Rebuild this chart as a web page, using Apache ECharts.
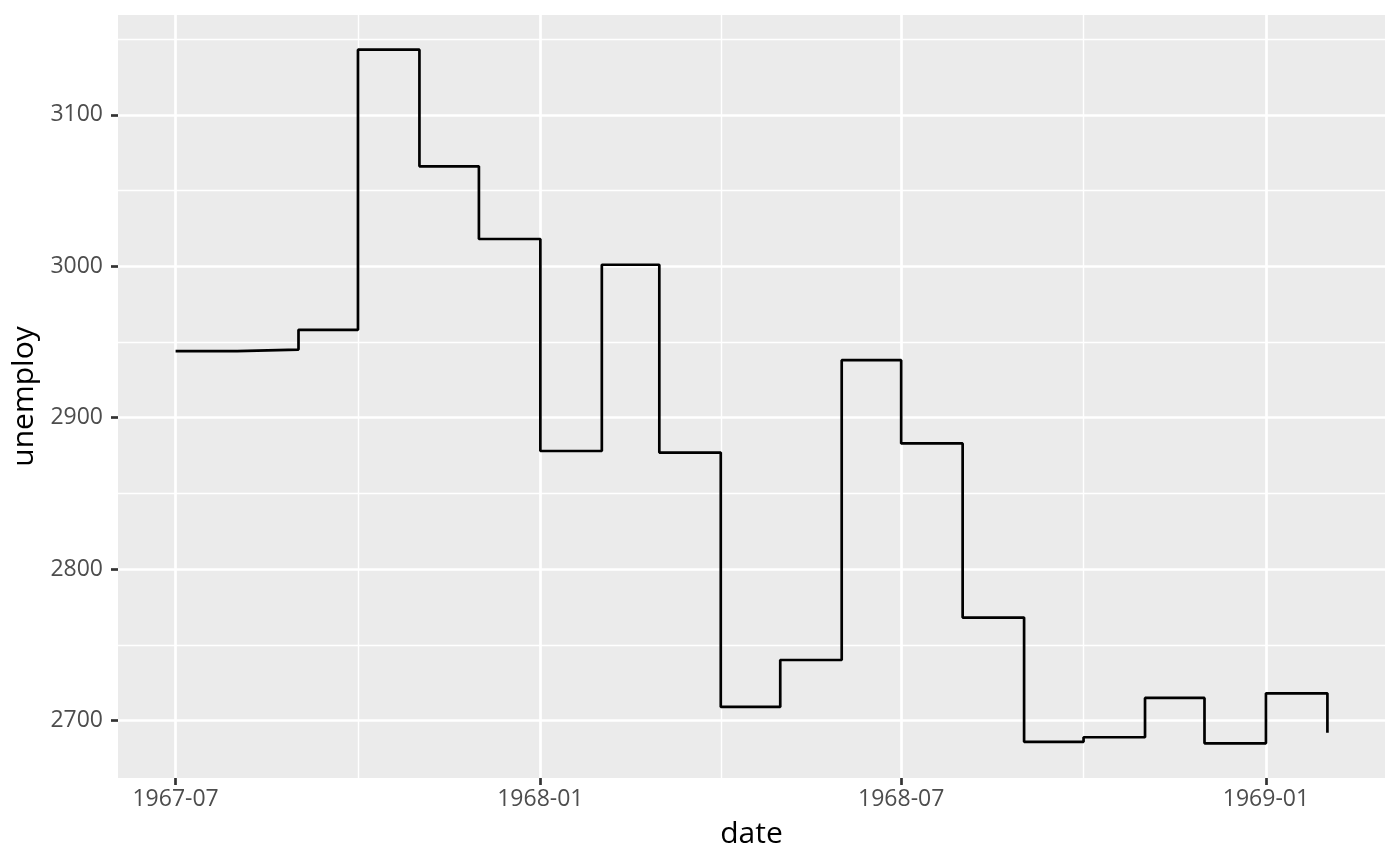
<!DOCTYPE html>
<html>
<head>
<meta charset="utf-8">
<script src="https://cdn.jsdelivr.net/npm/echarts@6/dist/echarts.min.js"></script>
<style>
html,body{margin:0;padding:0;background:#fff;}
#chart{width:1400px;height:866px;}
</style>
</head>
<body>
<div id="chart"></div>
<script>
const dates = ['1967-07-01','1967-08-01','1967-09-01','1967-10-01','1967-11-01','1967-12-01',
  '1968-01-01','1968-02-01','1968-03-01','1968-04-01','1968-05-01','1968-06-01',
  '1968-07-01','1968-08-01','1968-09-01','1968-10-01','1968-11-01','1968-12-01',
  '1969-01-01','1969-02-01'];
const unemploy = [2944,2945,2958,3143,3066,3018,2878,3001,2877,2709,2740,2938,2883,2768,2686,2689,2715,2685,2718,2692];
const xMajor = ['1967-07-01','1968-01-01','1968-07-01','1969-01-01'];
const xMinor = ['1967-10-01','1968-04-01','1968-10-01'];
const yMajor = [2700,2800,2900,3000,3100];
const yMinor = [2750,2850,2950,3050,3150];

const t = s => Date.parse(s);
const xs = dates.map(t);
const xSpan = xs[xs.length-1] - xs[0];
const xMin = xs[0] - 0.05*xSpan, xMax = xs[xs.length-1] + 0.05*xSpan;
const yLo = Math.min(...unemploy), yHi = Math.max(...unemploy);
const ySpan = yHi - yLo;
const yMin = yLo - 0.05*ySpan, yMax = yHi + 0.05*ySpan;

const fmt = v => { const d = new Date(v); return d.getUTCFullYear() + '-' + String(d.getUTCMonth()+1).padStart(2,'0'); };

const gridLines = [].concat(
  xMinor.map(s => ({xAxis: t(s), lineStyle:{width:1.4}})),
  yMinor.map(v => ({yAxis: v, lineStyle:{width:1.4}})),
  xMajor.map(s => ({xAxis: t(s), lineStyle:{width:2.7}})),
  yMajor.map(v => ({yAxis: v, lineStyle:{width:2.7}}))
);

const chart = echarts.init(document.getElementById('chart'));
chart.setOption({
  animation: false,
  textStyle: {fontFamily: 'Open Sans'},
  grid: {left:118, right:15, top:15, bottom:88, show:true, backgroundColor:'#EBEBEB', borderWidth:0,
    containLabel:false, outerBoundsMode:'none'},
  xAxis: {
    type:'value', min:xMin, max:xMax, scale:true,
    name:'date', nameLocation:'middle', nameGap:41,
    nameTextStyle:{fontSize:30, color:'#000', fontFamily:'Open Sans'},
    axisLine:{show:false},
    axisTick:{show:true, customValues: xMajor.map(t), length:7, lineStyle:{color:'#333', width:2.7}},
    axisLabel:{customValues: xMajor.map(t), formatter: v => fmt(v), fontSize:23, color:'#4D4D4D', margin:10, fontFamily:'Open Sans'},
    splitLine:{show:false}
  },
  yAxis: {
    type:'value', min:yMin, max:yMax, scale:true,
    name:'unemploy', nameLocation:'middle', nameGap:69,
    nameTextStyle:{fontSize:30, color:'#000', fontFamily:'Open Sans'},
    axisLine:{show:false},
    axisTick:{show:true, customValues: yMajor, length:7, lineStyle:{color:'#333', width:2.7}},
    axisLabel:{customValues: yMajor, formatter: v => String(v), fontSize:23, color:'#4D4D4D', margin:15, fontFamily:'Open Sans'},
    splitLine:{show:false}
  },
  series: [
    {
      type:'line', data:[], silent:true, z:1,
      markLine:{silent:true, z:1, symbol:['none','none'], label:{show:false},
        lineStyle:{color:'#fff', type:'solid'}, emphasis:{disabled:true}, animation:false,
        data: gridLines}
    },
    {
      type:'line', step:'end', z:3, showSymbol:false, symbol:'none',
      lineStyle:{color:'#000', width:2.7},
      data: xs.map((x,i) => [x, unemploy[i]])
    }
  ]
});
</script>
</body>
</html>
